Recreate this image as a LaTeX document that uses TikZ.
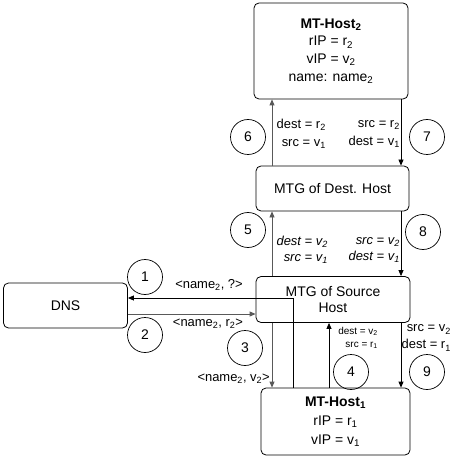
\documentclass[tikz,border=0pt]{standalone}
\usepackage{fontspec}
\setmainfont{Liberation Sans}
\usepackage{xcolor}
\usepackage{tikz}
\usetikzlibrary{arrows.meta, positioning, calc}

\definecolor{lnk}{gray}{0.35}

\tikzset{
  box/.style={draw, rounded corners=5bp, line width=0.8bp, align=center, inner sep=0pt,
    font=\fontsize{14}{17.7}\selectfont},
  num/.style={draw, circle, minimum size=35bp, inner sep=0pt, line width=0.7bp,
    font=\fontsize{14}{17}\selectfont},
  msg/.style={inner sep=0pt, align=right, font=\fontsize{13}{18}\selectfont},
  flow/.style={line width=0.8bp, -{Triangle[length=6bp,width=5bp]}},
}

\begin{document}
\begin{tikzpicture}[x=1bp, y=-1bp]

\useasboundingbox (0,0) rectangle (453,458);

% ---- Hosts and gateways ----
\node[box, minimum width=154bp, minimum height=96bp] (host2) at (331,51)
{\textbf{MT-Host\textsubscript{2}}\\rIP = r\textsubscript{2}\\vIP = v\textsubscript{2}\\name: name\textsubscript{2}};

\node[box, minimum width=153bp, minimum height=45bp] (dstgw) at (332.5,188.5)
{MTG of Dest. Host};

\node[box, minimum width=154bp, minimum height=46bp, font=\fontsize{14}{17}\selectfont] (srcgw) at (333,299.5)
{MTG of Source\\Host};

\node[box, minimum width=149bp, minimum height=67bp, font=\fontsize{14}{19}\selectfont] (host1) at (335.5,421.5)
{\textbf{MT-Host\textsubscript{1}}\\rIP = r\textsubscript{1}\\vIP = v\textsubscript{1}};

\node[box, minimum width=124bp, minimum height=45bp] (dns) at (65.5,305.5) {DNS};

% columns of the vertical links
\coordinate (lcol) at (272,0);
\coordinate (rcol) at (401,0);
\coordinate (qcol) at (293,0);
\coordinate (ucol) at (329,0);
\coordinate (dnsin) at ([yshift=7.5bp]dns.east);
\coordinate (dnsout) at ([yshift=-8.5bp]dns.east);

% ---- Links ----
\draw[flow, draw=lnk] (dstgw.north -| lcol) -- (host2.south -| lcol);
\draw[flow] (host2.south -| rcol) -- (dstgw.north -| rcol);
\draw[flow, draw=lnk] (srcgw.north -| lcol) -- (dstgw.south -| lcol);
\draw[flow] (dstgw.south -| rcol) -- (srcgw.north -| rcol);
\draw[flow] (host1.north -| qcol) |- (dnsin);
\draw[flow, draw=lnk] (dnsout) -- (dnsout -| srcgw.west);
\draw[flow, draw=lnk] (srcgw.south -| lcol) -- (host1.north -| lcol);
\draw[flow] (host1.north -| ucol) -- (srcgw.south -| ucol);
\draw[flow] (srcgw.south -| rcol) -- (host1.north -| rcol);

% ---- Messages ----
\node[msg, anchor=east] (m6) at (326,134) {dest = r\textsubscript{2}\\src = v\textsubscript{1}};
\node[msg, anchor=east] (m7) at (400,134) {src = r\textsubscript{2}\\dest = v\textsubscript{1}};
\node[msg, anchor=east, font=\fontsize{13}{16}\itshape] (m5) at (328,250)
{dest = v\textsubscript{2}\\src = v\textsubscript{1}};
\node[msg, anchor=east, font=\fontsize{13}{16}\itshape] (m8) at (400,250)
{src = v\textsubscript{2}\\dest = v\textsubscript{1}};
\node[msg] (m1) at (209,285) {<name\textsubscript{2}, ?>};
\node[msg] (m2) at (208,324) {<name\textsubscript{2}, r\textsubscript{2}>};
\node[msg, anchor=east] (m3) at (270,379) {<name\textsubscript{2}, v\textsubscript{2}>};
\node[msg, anchor=east, font=\fontsize{10}{13}\selectfont] (m4) at (378,338)
{dest = v\textsubscript{2}\\src = r\textsubscript{1}};
\node[msg, anchor=east, font=\fontsize{13}{17}\selectfont] (m9) at (451,338)
{src = v\textsubscript{2}\\dest = r\textsubscript{1}};

% ---- Step numbers ----
\node[num] (n1) at (145,277) {1};
\node[num] (n2) at (145,335) {2};
\node[num] (n3) at (245,348) {3};
\node[num] (n4) at (351,372) {4};
\node[num] (n5) at (248,230) {5};
\node[num] (n6) at (248,137) {6};
\node[num] (n7) at (427,137) {7};
\node[num] (n8) at (423,232) {8};
\node[num] (n9) at (427,372) {9};

\end{tikzpicture}
\end{document}
